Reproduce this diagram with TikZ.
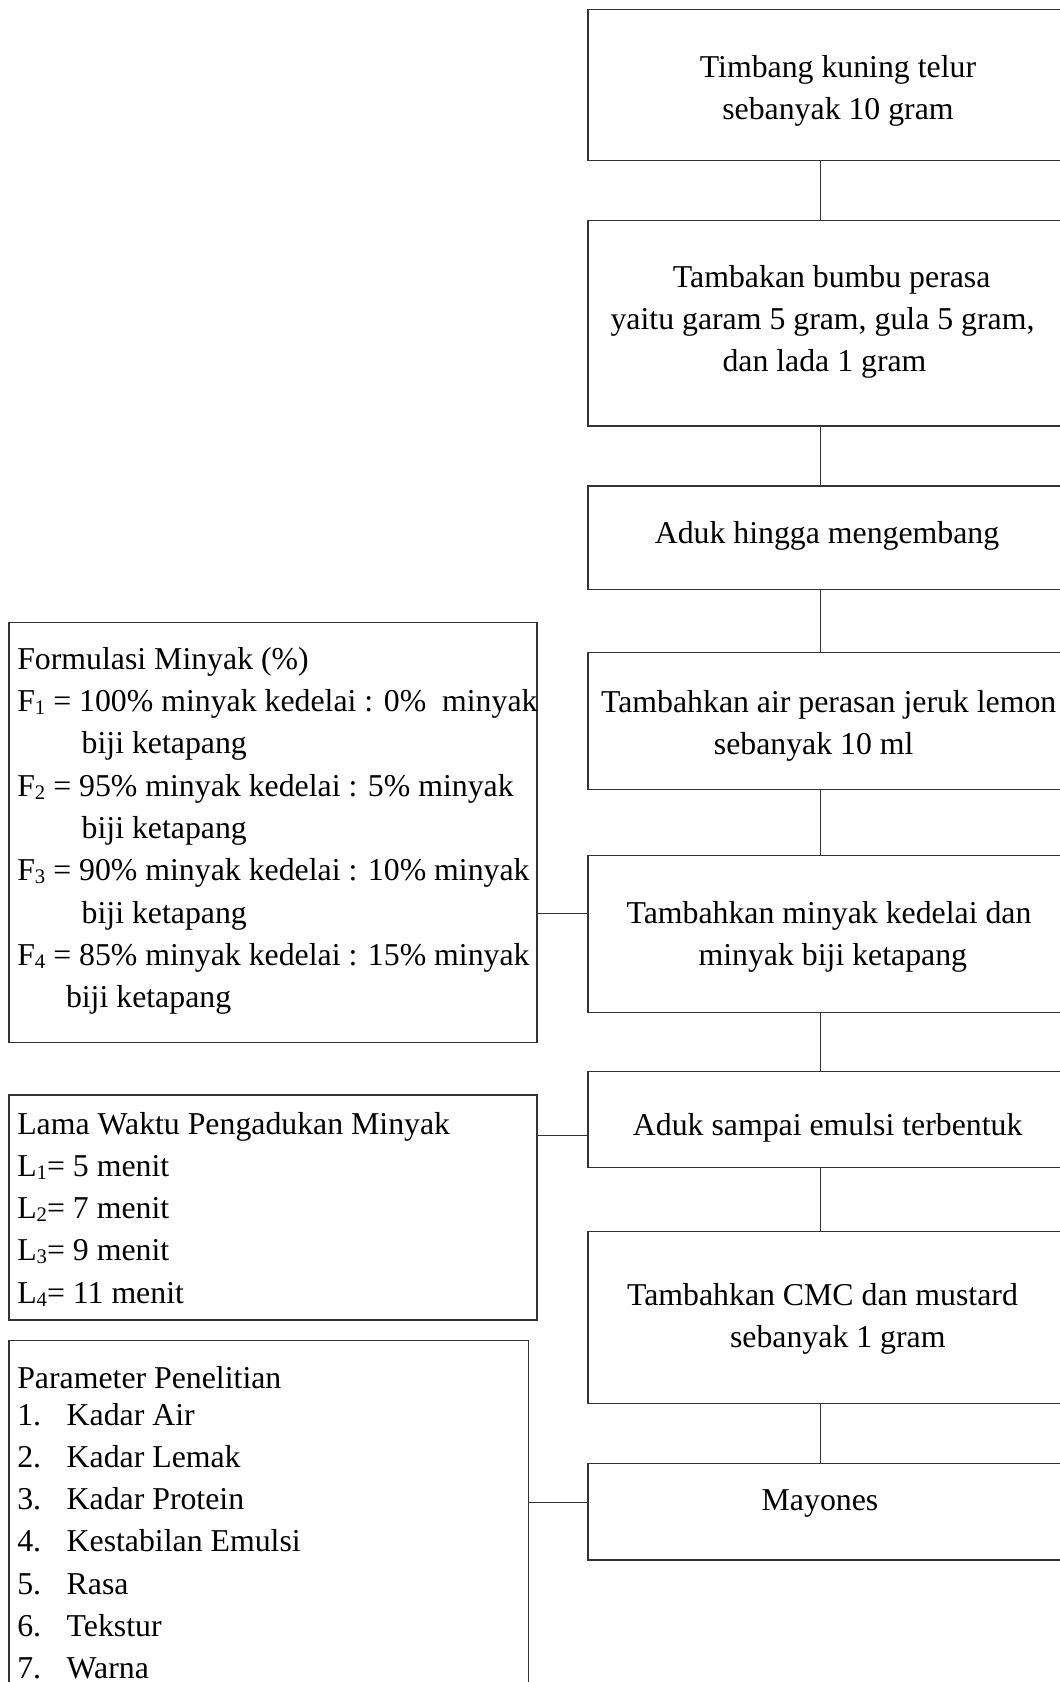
\documentclass[tikz,border=0pt]{standalone}
\usepackage{fontspec}
\setmainfont{Liberation Serif}
\newcommand\bodyfont{\fontsize{31.8pt}{42.3pt}\selectfont}
\newcommand\firstline{\rule[-12.3pt]{0pt}{42.3pt}}
\newcommand\lowsub[1]{\raisebox{-3pt}{\fontsize{20.7pt}{20pt}\selectfont #1}}
\begin{document}
\begin{tikzpicture}[x=1pt,y=-1pt,
  box/.style={draw=black!80, line width=1.2pt, rectangle, inner sep=0pt, outer sep=0pt, anchor=north west},
  conn/.style={draw=black!80, line width=1pt},
  txt/.style={inner sep=0pt, outer sep=0pt, font=\bodyfont, text=black}]
\useasboundingbox (0,0) rectangle (1060,1682);
\clip (0,0) rectangle (1060,1682);
\fill[white] (0,0) rectangle (1060,1682);

% right column boxes
\node[box, minimum width=482pt, minimum height=151pt]   (b1) at (588,9.7) {};
\node[box, minimum width=482pt, minimum height=205.3pt] (b2) at (588,220.7) {};
\node[box, minimum width=482pt, minimum height=103.7pt] (b3) at (588,486) {};
\node[box, minimum width=482pt, minimum height=137pt]   (b4) at (588,652.3) {};
\node[box, minimum width=482pt, minimum height=157pt]   (b5) at (588,855.7) {};
\node[box, minimum width=482pt, minimum height=95.6pt]  (b6) at (588,1071.7) {};
\node[box, minimum width=482pt, minimum height=171.6pt] (b7) at (588,1231.7) {};
\node[box, minimum width=482pt, minimum height=96.3pt]  (b8) at (588,1463.7) {};

% left boxes
\node[box, minimum width=528pt, minimum height=420pt]   (f) at (9,622.7) {};
\node[box, minimum width=528pt, minimum height=225pt]   (l) at (9,1095) {};
\node[box, minimum width=519.7pt, minimum height=380pt] (p) at (9,1340.7) {};

% connectors
\coordinate (cx) at (820.7,0);
\coordinate (h1) at (0,913);
\coordinate (h2) at (0,1135.7);
\coordinate (h3) at (0,1502.7);
\draw[conn] (b1.south -| cx) -- (b2.north -| cx);
\draw[conn] (b2.south -| cx) -- (b3.north -| cx);
\draw[conn] (b3.south -| cx) -- (b4.north -| cx);
\draw[conn] (b4.south -| cx) -- (b5.north -| cx);
\draw[conn] (b5.south -| cx) -- (b6.north -| cx);
\draw[conn] (b6.south -| cx) -- (b7.north -| cx);
\draw[conn] (b7.south -| cx) -- (b8.north -| cx);
\draw[conn] (f.east |- h1) -- (b5.west |- h1);
\draw[conn] (l.east |- h2) -- (b6.west |- h2);
\draw[conn] (p.east |- h3) -- (b8.west |- h3);

% right texts
\node[txt, align=center, anchor=north] (t1) at (838,47.3)
  {\firstline Timbang kuning telur\\sebanyak 10 gram};
\node[txt, align=center, anchor=north] (t2) at (822.5,257.3)
  {\firstline\hspace*{18.4pt}Tambakan bumbu perasa\\yaitu garam 5 gram, gula 5 gram,\\\hspace*{4pt}dan lada 1 gram};
\node[txt, align=center, anchor=north] (t3) at (827,513)
  {\firstline Aduk hingga mengembang};
\node[txt, align=center, anchor=north] (t4) at (828.7,682)
  {\firstline Tambahkan air perasan jeruk lemon\\sebanyak 10 ml\hspace*{30pt}};
\node[txt, align=center, anchor=north] (t5) at (829,893)
  {\firstline Tambahkan minyak kedelai dan\\\hspace*{7.6pt}minyak biji ketapang};
\node[txt, align=center, anchor=north] (t6) at (827.7,1105)
  {\firstline Aduk sampai emulsi terbentuk};
\node[txt, align=center, anchor=north] (t7) at (822.5,1275)
  {\firstline Tambahkan CMC dan mustard\\\hspace*{30.6pt}sebanyak 1 gram};
\node[txt, align=center, anchor=north] (t8) at (820,1480.5)
  {\firstline Mayones};

% left texts
\node[txt, align=left, anchor=north west] (ft) at (17.3,639.3)
  {\firstline Formulasi Minyak (\%)\\
   F\lowsub{1} = 100\% minyak kedelai : 0\%\ \ minyak\\
   \hspace*{64.4pt}biji ketapang\\
   F\lowsub{2} = 95\% minyak kedelai : 5\% minyak\\
   \hspace*{64.4pt}biji ketapang\\
   F\lowsub{3} = 90\% minyak kedelai : 10\% minyak\\
   \hspace*{64.4pt}biji ketapang\\
   F\lowsub{4} = 85\% minyak kedelai : 15\% minyak\\
   \hspace*{48.7pt}biji ketapang};
\node[txt, align=left, anchor=north west] (lt) at (17.3,1104)
  {\firstline Lama Waktu Pengadukan Minyak\\
   L\lowsub{1}= 5 menit\\
   L\lowsub{2}= 7 menit\\
   L\lowsub{3}= 9 menit\\
   L\lowsub{4}= 11 menit};
\node[txt, align=left, anchor=north west] (ph) at (17.3,1358.3)
  {\firstline Parameter Penelitian};
\node[txt, align=left, anchor=north west] (pl) at (17.3,1395)
  {\firstline\makebox[49.4pt][l]{1.}Kadar Air\\
   \makebox[49.4pt][l]{2.}Kadar Lemak\\
   \makebox[49.4pt][l]{3.}Kadar Protein\\
   \makebox[49.4pt][l]{4.}Kestabilan Emulsi\\
   \makebox[49.4pt][l]{5.}Rasa\\
   \makebox[49.4pt][l]{6.}Tekstur\\
   \makebox[49.4pt][l]{7.}Warna};
\end{tikzpicture}
\end{document}
